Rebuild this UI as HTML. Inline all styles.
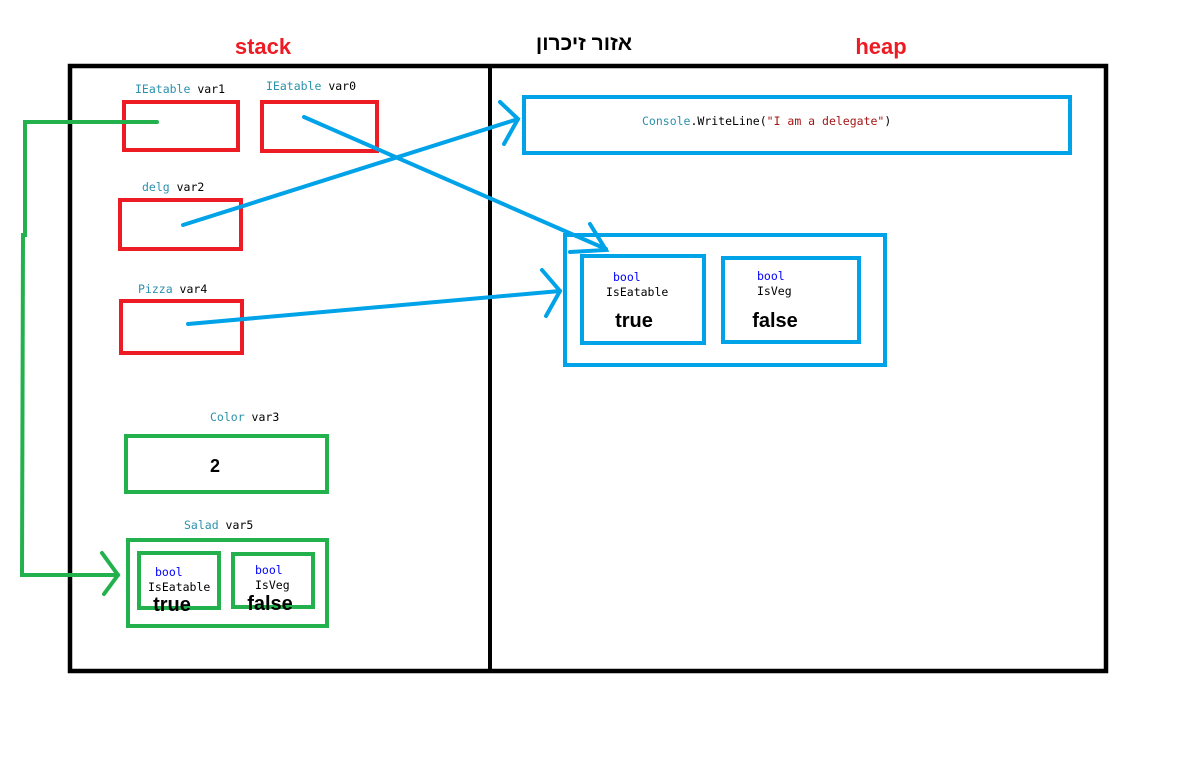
<!DOCTYPE html>
<html><head><meta charset="utf-8"><style>
html,body{margin:0;padding:0;background:#fff;}
svg{display:block}
.m{font-family:"DejaVu Sans Mono","Liberation Mono",monospace;font-size:11.5px}
.b{font-family:"Liberation Sans",sans-serif;font-weight:bold}
</style></head><body>
<svg width="1198" height="766" viewBox="0 0 1198 766" xmlns="http://www.w3.org/2000/svg">
<rect width="1198" height="766" fill="#fff"/>
<text x="263" y="54" class="b" font-size="22" fill="#ed1c24" text-anchor="middle">stack</text>
<text x="584" y="50" class="b" font-size="21" fill="#000" text-anchor="middle" font-family="Liberation Sans, DejaVu Sans, sans-serif">אזור זיכרון</text>
<text x="881" y="54" class="b" font-size="22" fill="#ed1c24" text-anchor="middle">heap</text>
<rect x="70" y="66" width="1036" height="605" fill="none" stroke="#000" stroke-width="4.5"/>
<line x1="490" y1="66" x2="490" y2="671" stroke="#000" stroke-width="4"/>
<g fill="none" stroke="#ed1c24" stroke-width="4">
<rect x="124" y="102" width="114" height="48"/>
<rect x="262" y="102" width="115" height="49"/>
<rect x="120" y="200" width="121" height="49"/>
<rect x="121" y="301" width="121" height="52"/>
</g>
<g class="m">
<text x="135" y="93"><tspan fill="#2b91af">IEatable</tspan> var1</text>
<text x="266" y="90"><tspan fill="#2b91af">IEatable</tspan> var0</text>
<text x="142" y="191"><tspan fill="#2b91af">delg</tspan> var2</text>
<text x="138" y="293"><tspan fill="#2b91af">Pizza</tspan> var4</text>
<text x="210" y="421"><tspan fill="#2b91af">Color</tspan> var3</text>
<text x="184" y="529"><tspan fill="#2b91af">Salad</tspan> var5</text>
<text x="642" y="125"><tspan fill="#2b91af">Console</tspan>.WriteLine(<tspan fill="#a31515">"I am a delegate"</tspan>)</text>
<text x="155" y="576" fill="#0000ff">bool</text>
<text x="148" y="591">IsEatable</text>
<text x="255" y="574" fill="#0000ff">bool</text>
<text x="255" y="589">IsVeg</text>
<text x="613" y="281" fill="#0000ff">bool</text>
<text x="606" y="296">IsEatable</text>
<text x="757" y="280" fill="#0000ff">bool</text>
<text x="757" y="295">IsVeg</text>
</g>
<g fill="none" stroke="#22b14c" stroke-width="4">
<rect x="126" y="436" width="201" height="56"/>
<rect x="128" y="540" width="199" height="86"/>
<rect x="139" y="553" width="80" height="55"/>
<rect x="233" y="554" width="80" height="53"/>
<polyline points="157,122 25,122 25,235 23,235 22,575 118,575" stroke-linecap="round"/>
<polyline points="102,553 118,575 104,594" stroke-linecap="round"/>
</g>
<text x="215" y="472" class="b" font-size="18" text-anchor="middle">2</text>
<text x="172" y="611" class="b" font-size="20" text-anchor="middle">true</text>
<text x="270" y="610" class="b" font-size="20" text-anchor="middle">false</text>
<g fill="none" stroke="#00a2e8" stroke-width="4" stroke-linecap="round">
<rect x="524" y="97" width="546" height="56"/>
<rect x="565" y="235" width="320" height="130"/>
<rect x="582" y="256" width="122" height="87"/>
<rect x="723" y="258" width="136" height="84"/>
<line x1="304" y1="117" x2="606" y2="249"/>
<polyline points="590,224 606,250 570,252"/>
<line x1="183" y1="225" x2="518" y2="119"/>
<polyline points="500,102 518,119 504,144"/>
<line x1="188" y1="324" x2="560" y2="291"/>
<polyline points="542,270 560,291 546,316"/>
</g>
<text x="634" y="327" class="b" font-size="20" text-anchor="middle">true</text>
<text x="775" y="327" class="b" font-size="20" text-anchor="middle">false</text>
</svg>
</body></html>
